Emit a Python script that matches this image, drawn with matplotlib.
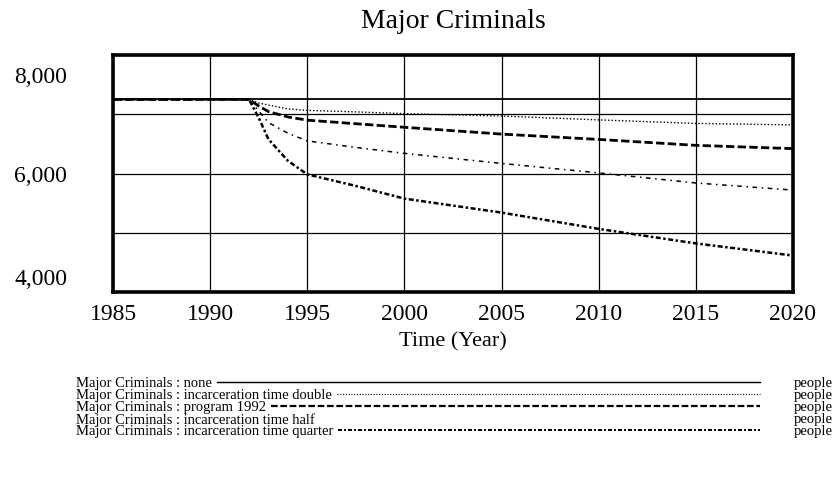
import numpy as np
import matplotlib
matplotlib.use("Agg")
import matplotlib.pyplot as plt
from matplotlib.transforms import ScaledTranslation
from matplotlib.lines import Line2D

plt.rcParams['font.family'] = ['Liberation Serif', 'DejaVu Serif']

# data
years = [1985, 1992, 1992.5, 1993, 1994, 1995, 1997.5, 2000, 2005, 2010, 2015, 2020]
none = [7250, 7250, 7250, 7250, 7250, 7250, 7250, 7250, 7250, 7250, 7250, 7250]
double = [7250, 7250, 7190, 7155, 7090, 7065, 7040, 7010, 6970, 6905, 6845, 6820]
program = [7250, 7250, 7140, 7045, 6955, 6900, 6840, 6780, 6665, 6575, 6475, 6420]
half = [7250, 7250, 7055, 6860, 6680, 6550, 6440, 6340, 6170, 6010, 5840, 5720]
quarter = [7250, 7250, 6940, 6580, 6215, 5985, 5790, 5576, 5340, 5065, 4820, 4615]

xticks = [1985, 1990, 1995, 2000, 2005, 2010, 2015, 2020]
yticks = [4000, 6000, 8000]
ytick_labels = ['4,000', '6,000', '8,000']

legend_names = ['none', 'incarceration time double', 'program 1992',
                'incarceration time half', 'incarceration time quarter']

fig = plt.figure(figsize=(8.37, 4.81), dpi=100)
ax = fig.add_axes([113 / 837, 1 - 293 / 481, 680 / 837, 237 / 481])

styles = [
    dict(linestyle='-', linewidth=1.3),
    dict(linestyle=(0, (1, 1.5)), linewidth=1.0),
    dict(linestyle=(0, (3, 1.2)), linewidth=2.0),
    dict(linestyle=(0, (3, 3, 1, 3)), linewidth=1.1),
    dict(linestyle=(0, (2, 1, 1, 1)), linewidth=1.8),
]
series = [none, double, program, half, quarter]
for vals, st in zip(series, styles):
    ax.plot(years, vals, color='black', **st)

ax.set_xlim(1985, 2020)
ax.set_ylim(4000, 8000)
ax.set_xticks(xticks)
ax.set_yticks(yticks)
ax.set_yticklabels(ytick_labels)
ax.set_yticks([5000, 7000], minor=True)
ax.tick_params(which='both', length=0)
ax.tick_params(axis='x', labelsize=17, pad=8)
ax.tick_params(axis='y', labelsize=17, pad=33)
ax.grid(True, which='both', color='black', linewidth=0.9)
for s in ax.spines.values():
    s.set_linewidth(2.6)

# Vensim nudges the end labels inward
labs = ax.get_yticklabels()
labs[0].set_transform(labs[0].get_transform() + ScaledTranslation(0, 16 / 100, fig.dpi_scale_trans))
labs[2].set_transform(labs[2].get_transform() + ScaledTranslation(0, -19 / 100, fig.dpi_scale_trans))

ax.set_xlabel('Time (Year)', fontsize=16, labelpad=5)
fig.text(453 / 837, 1 - 22 / 481, 'Major Criminals', ha='center', va='center', fontsize=20)

# legend block
fig.canvas.draw()
r = fig.canvas.get_renderer()
row_y = [384, 396, 408, 420, 432]
for name, yy, st in zip(legend_names, row_y, styles):
    t = fig.text(76 / 837, 1 - yy / 481, 'Major Criminals : ' + name,
                 ha='left', va='center', fontsize=10.5)
    fig.text(833 / 837, 1 - yy / 481, 'people', ha='right', va='center', fontsize=10.5)
    if name == 'incarceration time half':
        continue
    bb = t.get_window_extent(renderer=r)
    x0 = (bb.x1 + 5) / 837
    ly = 1 - (yy - 1) / 481
    fig.add_artist(Line2D([x0, 760 / 837], [ly, ly], color='black',
                          linestyle=st['linestyle'], linewidth=st['linewidth'] * 0.8,
                          transform=fig.transFigure))

fig.savefig('out.png', dpi=100)
